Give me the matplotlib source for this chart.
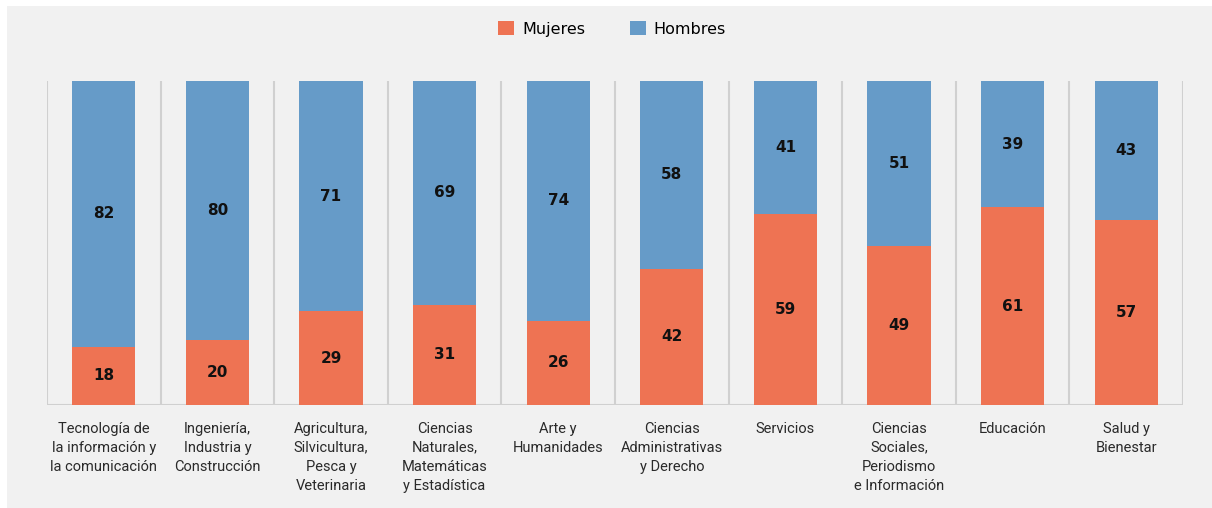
import matplotlib
import matplotlib.pyplot as plt
import numpy as np
from matplotlib.patches import Rectangle

# share of graduates by field, in percent
areas = ['Tecnología de\nla información y\nla comunicación',
         'Ingeniería,\nIndustria y\nConstrucción',
         'Agricultura,\nSilvicultura,\nPesca y\nVeterinaria',
         'Ciencias\nNaturales,\nMatemáticas\ny Estadística',
         'Arte y\nHumanidades',
         'Ciencias\nAdministrativas\ny Derecho',
         'Servicios',
         'Ciencias\nSociales,\nPeriodismo\ne Información',
         'Educación',
         'Salud y\nBienestar']
mujeres = [18, 20, 29, 31, 26, 42, 59, 49, 61, 57]
hombres = [82, 80, 71, 69, 74, 58, 41, 51, 39, 43]

c_muj = '#ee7353'
c_hom = '#669bc8'
bg = '#f1f1f1'
W, H = 1212, 508

fig = plt.figure(figsize=(W / 100, H / 100), dpi=100, facecolor='white')
fig.patches.append(Rectangle((7 / W, -0.01), 1.02 - 7 / W, 1.01 - 6 / H,
                             transform=fig.transFigure, facecolor=bg,
                             edgecolor='none', zorder=-5))

ax = fig.add_axes([47 / W, 1 - 405 / H, (1183 - 47) / W, (405 - 81) / H])
ax.patch.set_alpha(0)

x = np.arange(len(areas))
bw = 0.555
b1 = ax.bar(x, mujeres, bw, color=c_muj, label='Mujeres', zorder=3)
b2 = ax.bar(x, hombres, bw, bottom=mujeres, color=c_hom, label='Hombres', zorder=3)

for i in range(len(areas)):
    ax.text(x[i], mujeres[i] / 2, str(mujeres[i]), ha='center', va='center',
            fontsize=11, fontweight='bold', color='#111111', zorder=4)
    ax.text(x[i], mujeres[i] + hombres[i] / 2, str(hombres[i]), ha='center',
            va='center', fontsize=11, fontweight='bold', color='#111111', zorder=4)

ax.set_xlim(-0.5, len(areas) - 0.5)
ax.set_ylim(0, 100)

# separators between categories
for b in np.arange(-0.5, len(areas), 1.0):
    ax.axvline(b, color='#d0d0d0', lw=1.5, zorder=1)
ax.axhline(0, color='#d0d0d0', lw=1.5, zorder=2)

for s in ax.spines.values():
    s.set_visible(False)
ax.set_yticks([])
ax.set_xticks(x)
ax.set_xticklabels(areas, fontsize=10.5, color='#2a2a2a',
                   family=['Roboto', 'DejaVu Sans'],
                   linespacing=1.45, va='top')
ax.tick_params(axis='x', length=0, pad=12)

fig.legend(handles=[b1, b2], labels=['Mujeres', 'Hombres'], loc='center',
           bbox_to_anchor=(612 / W, 1 - 29 / H), ncol=2, frameon=False,
           handlelength=1.0, handleheight=1.0, columnspacing=2.8,
           handletextpad=0.5, prop={'size': 11.5, 'family': ['DejaVu Sans']})

fig.savefig('out.png', dpi=100, facecolor='white')
